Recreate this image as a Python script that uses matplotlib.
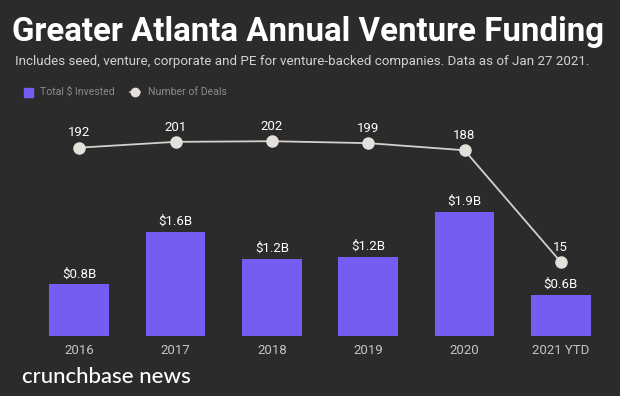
import matplotlib.pyplot as plt

years = ['2016', '2017', '2018', '2019', '2020', '2021 YTD']
invested = [0.8, 1.61, 1.2, 1.22, 1.92, 0.63]   # $B
invested_labels = ['$0.8B', '$1.6B', '$1.2B', '$1.2B', '$1.9B', '$0.6B']
deals = [192, 201, 202, 199, 188, 15]

bg = '#2b2b2b'
purple = '#775cf4'
plt.rcParams['font.family'] = ['Roboto', 'DejaVu Sans']

fig = plt.figure(figsize=(6.2, 3.96), dpi=100, facecolor=bg)
ax = fig.add_axes([31/620, 1 - 336/396, 578/620, 226/396])
ax.set_facecolor(bg)

x = range(len(years))
ax.bar(x, invested, width=0.62, color=purple, zorder=2)
for i, v in enumerate(invested):
    ax.annotate(invested_labels[i], (i, v), xytext=(0, 3), textcoords='offset points',
                ha='center', va='bottom', color='white', fontsize=9.5)
ax.set_xlim(-0.5, 5.5)
ax.set_ylim(0, 3.51)
ax.set_xticks(list(x))
ax.set_xticklabels(years, color='#c4c4c4', fontsize=9.5)
ax.tick_params(axis='x', length=0, pad=6)
ax.set_yticks([])
for s in ax.spines.values():
    s.set_visible(False)

ax2 = ax.twinx()
ax2.plot(x, deals, color='#d4d0cc', lw=1.3, marker='o', markersize=8,
         markerfacecolor='#e4e0dc', markeredgecolor='#e4e0dc', zorder=3)
for i, d in enumerate(deals):
    ax2.annotate(str(d), (i, d), xytext=(0, 6), textcoords='offset points',
                 ha='center', va='bottom', color='white', fontsize=9.5)
ax2.set_ylim(-99.5, 250.3)
ax2.set_yticks([])
for s in ax2.spines.values():
    s.set_visible(False)

fig.text(12/620, 1 - 32/396, 'Greater Atlanta Annual Venture Funding', color='white',
         fontsize=23.8, fontweight='bold', va='center', ha='left')
fig.text(15/620, 1 - 62/396,
         'Includes seed, venture, corporate and PE for venture-backed companies. Data as of Jan 27 2021.',
         color='#d2d2d2', fontsize=9.6, va='center', ha='left')

# legend
fig.patches.append(plt.Rectangle((24/620, 1 - 97/396), 9/620, 9/396, color=purple,
                                 transform=fig.transFigure))
fig.text(40/620, 1 - 92/396, 'Total $ Invested', color='#8a8a8a', fontsize=7.6, va='center')
fig.add_artist(plt.Line2D([130/620, 140/620], [1 - 92/396, 1 - 92/396], color='#d4d0cc', lw=1.2,
                          transform=fig.transFigure))
fig.add_artist(plt.Line2D([135/620], [1 - 92/396], marker='o', markersize=6, color='#e4e0dc',
                          transform=fig.transFigure))
fig.text(148/620, 1 - 92/396, 'Number of Deals', color='#8a8a8a', fontsize=7.6, va='center')

fig.text(22/620, 1 - 377/396, 'crunchbase news', color='white', fontsize=16, va='center',
         family=['Lato', 'DejaVu Sans'], fontweight='medium')

fig.savefig('out.png', dpi=100, facecolor=bg)
